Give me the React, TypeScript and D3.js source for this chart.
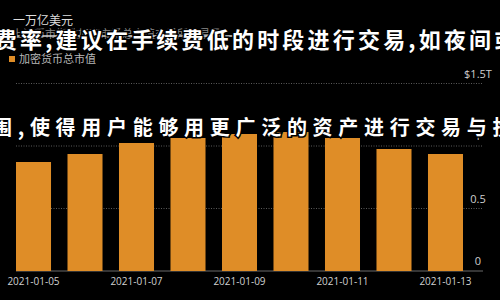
import React from "react";
import * as d3 from "d3";

const dates = ["2021-01-05","2021-01-06","2021-01-07","2021-01-08","2021-01-09","2021-01-10","2021-01-11","2021-01-12","2021-01-13"];
const marketCap = [0.872, 0.936, 1.024, 1.064, 1.096, 1.112, 1.064, 0.976, 0.936];
const yTicks = [0, 0.5, 1, 1.5];
const yTickLabels = ["0", "0.5", "1", "$1.5T"];
const xLabelDates = ["2021-01-05","2021-01-07","2021-01-09","2021-01-11","2021-01-13"];
const unitLabel = "一万亿美元";
const legendLineLabel = "上证币市指数加密市场总市值交易所交易量";
const legendBarLabel = "加密货币总市值";
const overlayRow1 = "费率,建议在手续费低的时段进行交易,如夜间或";
const overlayRow2 = "围,使得用户能够用更广泛的资产进行交易与投";

const W = 500, H = 300;
const BAR = "#df8d27";

export default function App() {
  const x = d3.scaleBand<string>().domain(dates).range([16, 463]).paddingInner(0.32).paddingOuter(0);
  const y = d3.scaleLinear().domain([0, 1.5]).range([271, 83.5]);
  const sans = "'Open Sans', 'Noto Sans CJK SC', sans-serif";
  const cjk = "'Noto Sans CJK SC', sans-serif";
  return (
    <div style={{ position: "fixed", left: 0, top: 0, width: W, height: H, background: "#000" }}>
      <svg width={W} height={H} style={{ display: "block" }}>
        <rect width={W} height={H} fill="#000" />
        {yTicks.map((t, i) => (
          <g key={t}>
            {i === 0 ? (
              <line x1={16} x2={483} y1={y(t)} y2={y(t)} stroke="#6a6a6a" strokeWidth={1} />
            ) : (
              <line x1={16} x2={483} y1={y(t)} y2={y(t)} stroke="#5a5a5a" strokeWidth={1} strokeDasharray="1,1.5" />
            )}
            <text x={478} y={y(t) - 6} textAnchor="middle" fill="#cfcfcf" fontSize={11} fontFamily={sans}>{yTickLabels[i]}</text>
          </g>
        ))}
        {dates.map((d, i) => (
          <rect key={d} x={x(d)} y={y(marketCap[i])} width={x.bandwidth()} height={y(0) - y(marketCap[i])} fill={BAR} />
        ))}
        {xLabelDates.map((d) => (
          <text key={d} x={(x(d) as number) + x.bandwidth() / 2} y={285} textAnchor="middle" fill="#d0d0d0" fontSize={10} fontFamily={sans}>{d}</text>
        ))}
        <text x={13} y={24.5} fill="#dedede" fontSize={12} fontFamily={cjk}>{unitLabel}</text>
        <text x={12} y={38} fill="#8a8a8a" fontSize={11} fontFamily={cjk}>{legendLineLabel}</text>
        <line x1={14} x2={240} y1={36} y2={36} stroke="#d8d8d8" strokeWidth={1.5} />
        <rect x={9} y={56} width={6} height={6} fill={BAR} />
        <text x={19} y={63} fill="#b8b8b8" fontSize={11} fontFamily={cjk}>{legendBarLabel}</text>
        <text x={-5.2} y={48} fill="#ffffff" stroke="#000" strokeWidth={3} paintOrder="stroke" fontSize={22} fontWeight={700} letterSpacing={3.2} fontFamily={cjk}>{overlayRow1}</text>
        <text x={-8} y={134.5} fill="#ffffff" stroke="#000" strokeWidth={3} paintOrder="stroke" fontSize={20} fontWeight={700} letterSpacing={5.7} fontFamily={cjk}>{overlayRow2}</text>
      </svg>
    </div>
  );
}
